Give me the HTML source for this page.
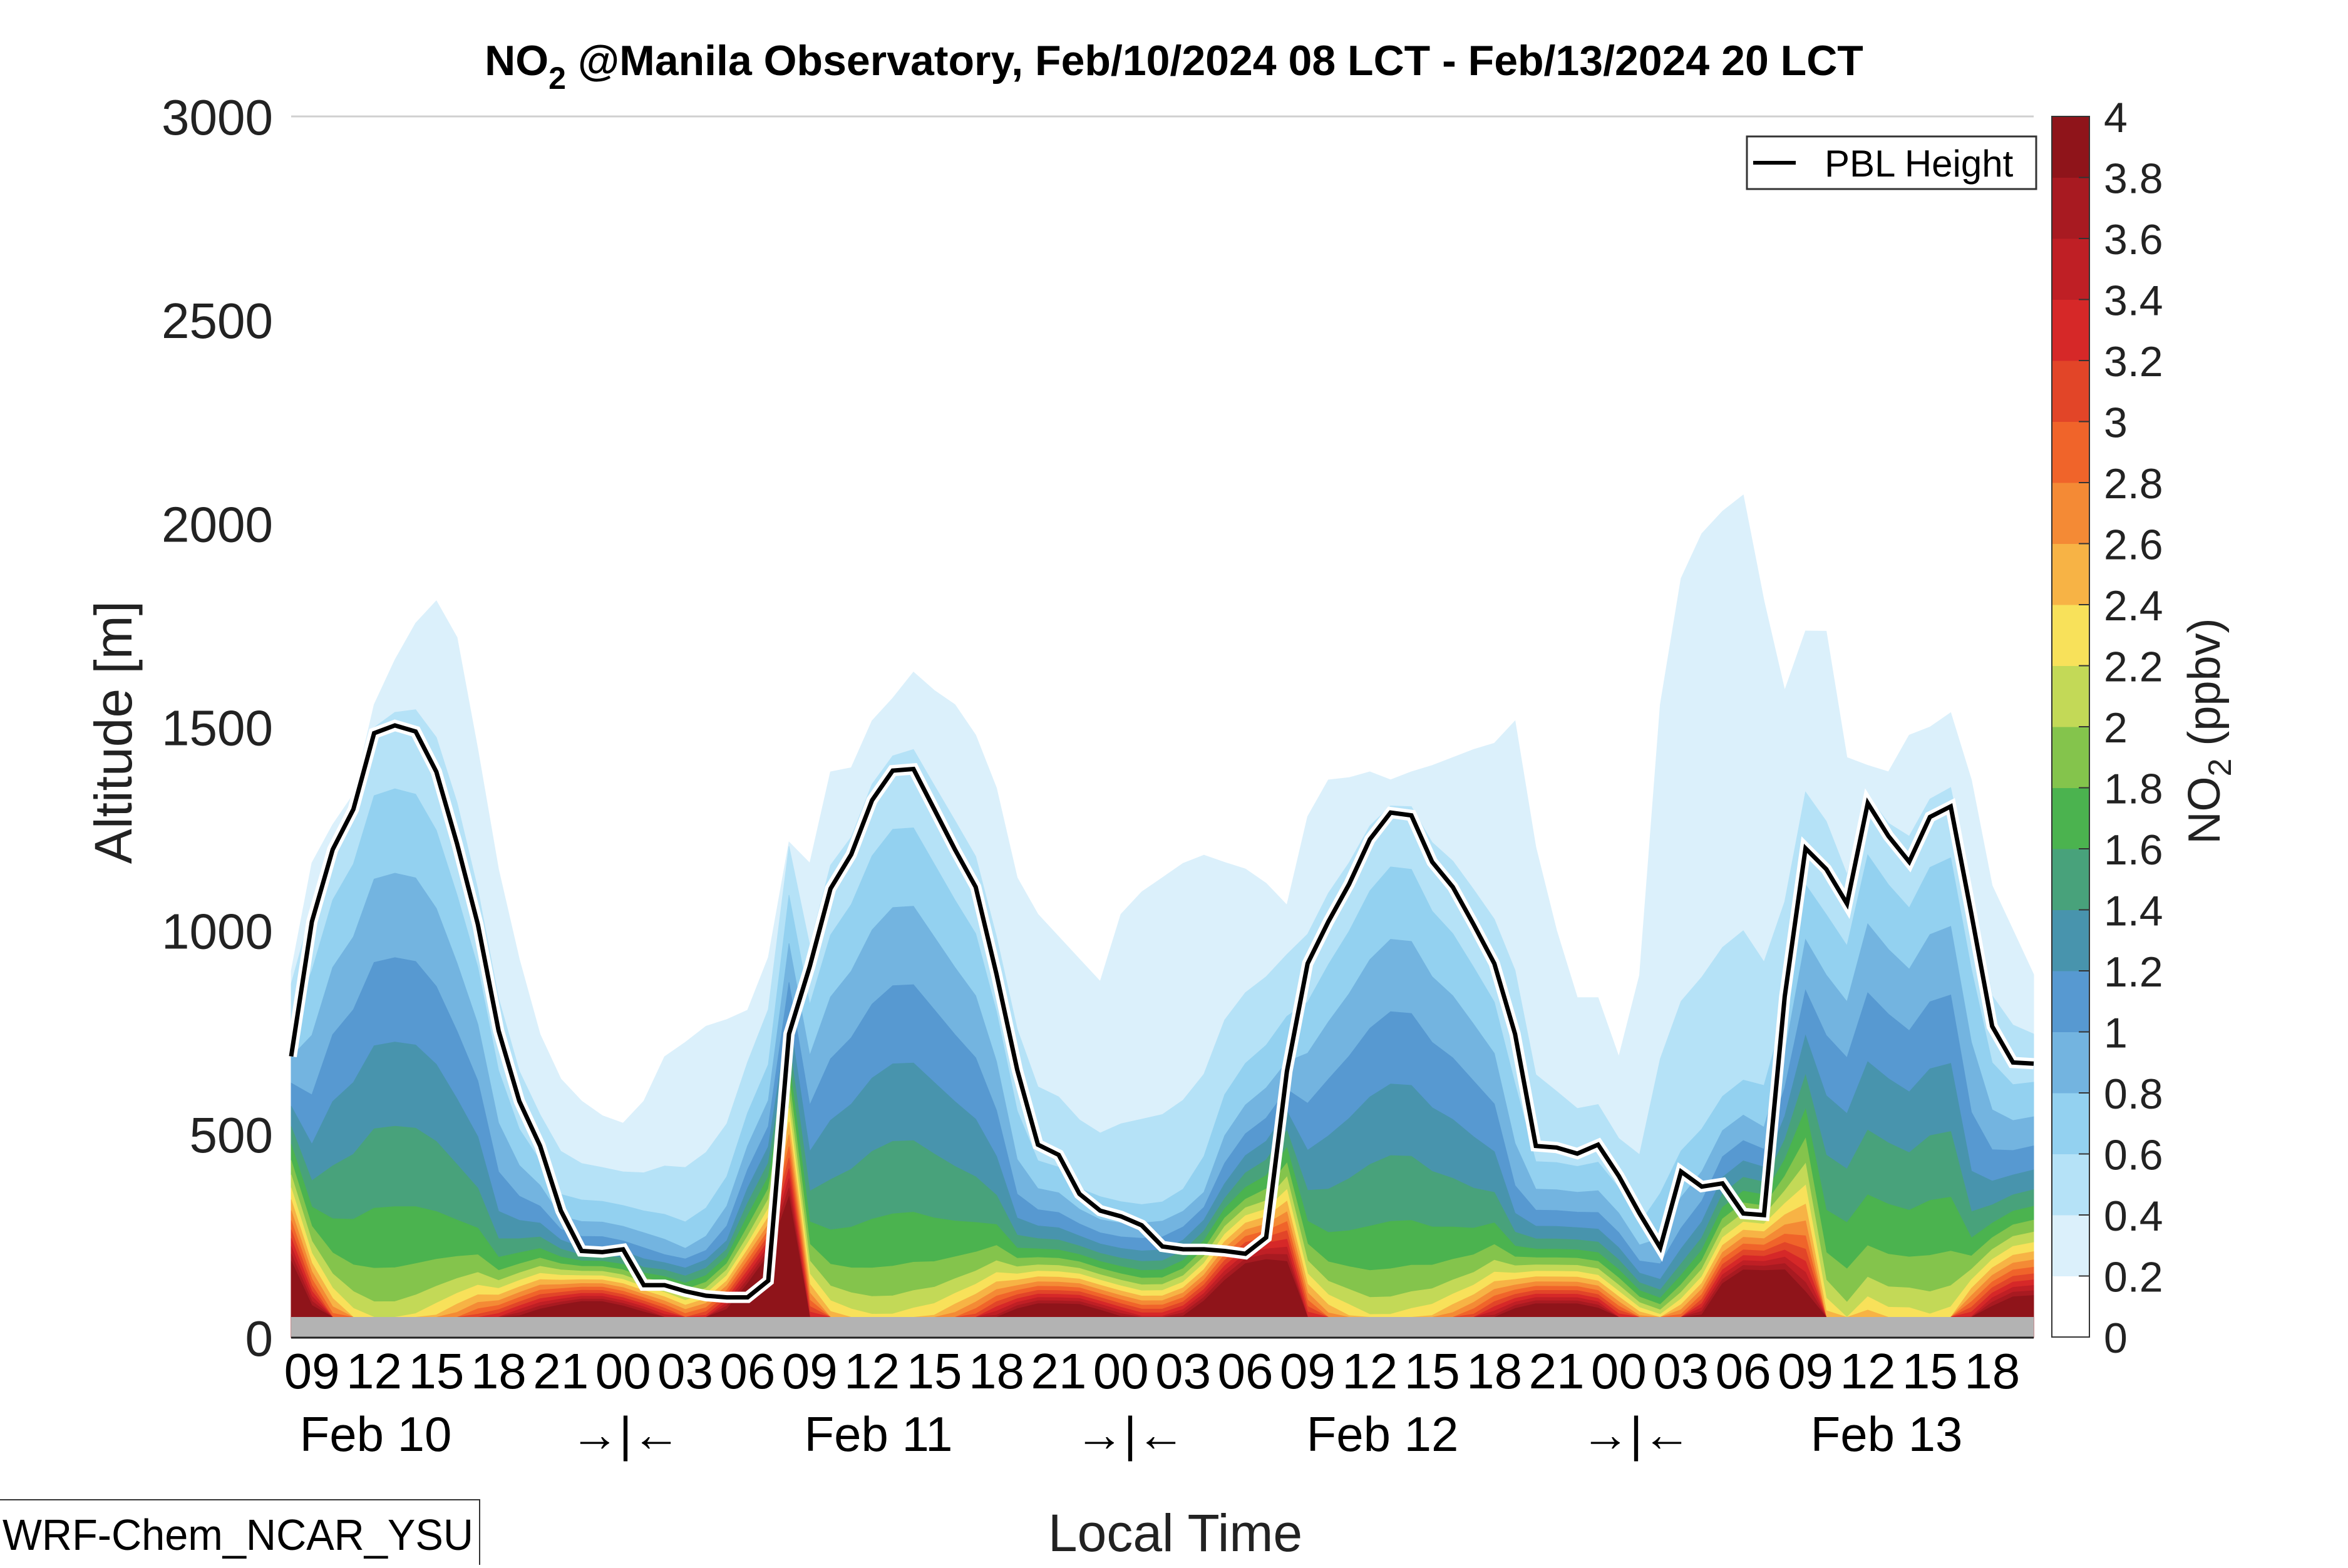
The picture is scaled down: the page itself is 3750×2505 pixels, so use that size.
<!DOCTYPE html>
<html><head><meta charset="utf-8">
<style>
html,body{margin:0;padding:0;background:#fff;}
svg text{font-family:"Liberation Sans",sans-serif;}
</style></head>
<body>
<svg id="chart" width="3750" height="2500" viewBox="0 0 3750 2500" xmlns="http://www.w3.org/2000/svg">
<rect x="0" y="0" width="3750" height="2500" fill="#fff"/>
<text x="1875" y="120" font-size="68" font-weight="bold" text-anchor="middle">NO<tspan font-size="50" dy="22">2</tspan><tspan dy="-22"> @Manila Observatory, Feb/10/2024 08 LCT - Feb/13/2024 20 LCT</tspan></text>
<line x1="465" y1="186" x2="3248" y2="186" stroke="#d0d0d0" stroke-width="3"/>
<g id="contours"></g>
<rect x="465" y="2104" width="2783" height="33" fill="#b3b3b3"/>
<line x1="465" y1="2137" x2="3248" y2="2137" stroke="#222" stroke-width="3"/>
<g id="pbl"></g>
<g id="yticks"></g>
<g id="xticks"></g>
<text transform="translate(210,1170) rotate(-90)" font-size="84" text-anchor="middle" fill="#222">Altitude [m]</text>
<text x="1877" y="2500" font-size="84" text-anchor="middle" fill="#222" dy="-22">Local Time</text>
<g font-size="78" text-anchor="middle">
<text x="600" y="2318">Feb 10</text>
<text x="1403" y="2318">Feb 11</text>
<text x="2208" y="2318">Feb 12</text>
<text x="3013" y="2318">Feb 13</text>
<text x="999" y="2318">→|←</text>
<text x="1805" y="2318">→|←</text>
<text x="2613" y="2318">→|←</text>
</g>
<g>
<rect x="-2" y="2396" width="768" height="110" fill="#fff" stroke="#333" stroke-width="2"/>
<text x="4" y="2476" font-size="70" textLength="752" lengthAdjust="spacingAndGlyphs">WRF-Chem_NCAR_YSU</text>
</g>
<g>
<rect x="2790" y="218" width="462" height="84" fill="#fff" stroke="#333" stroke-width="3"/>
<line x1="2800" y1="260" x2="2868" y2="260" stroke="#000" stroke-width="6"/>
<text x="2914" y="282" font-size="60">PBL Height</text>
</g>
<g id="cbar"></g>
<text transform="translate(3545,1168) rotate(-90)" font-size="72" text-anchor="middle" fill="#222">NO<tspan font-size="52" dy="18">2</tspan><tspan dy="-18"> (ppbv)</tspan></text>
</svg>
<script>
// ---- data (hourly, hour 0 = Feb 10 08 LCT) ----
const pbl = [691,1022,1199,1298,1485,1504,1489,1390,1213,1015,754,581,471,312,213,210,217,129,129,114,103,99,99,140,
746,912,1103,1187,1320,1393,1397,1298,1199,1107,893,658,474,449,353,312,298,276,224,217,217,213,206,246,
654,919,1022,1114,1224,1290,1283,1169,1107,1015,919,746,471,467,452,474,397,305,221,408,371,379,305,301,
838,1202,1151,1066,1313,1232,1169,1279,1305,1040,765,676,673];
const top02 = [893,1169,1261,1335,1555,1665,1757,1812,1720,1445,1151,930,746,636,581,544,526,581,691,728,765,783,801,930,
1206,1169,1390,1400,1518,1574,1636,1592,1555,1482,1353,1132,1040,985,930,875,1040,1096,1132,1169,1188,1169,1151,1114,
1059,1280,1371,1379,1390,1371,1390,1408,1426,1445,1463,1518,1206,1004,838,838,691,893,1555,1868,1978,2033,2070,1812,
1592,1739,1739,1426,1408,1390,1482,1500,1537,1371,1114,1004,893];
const surfaceConc = [6,4.5,3,2.4,2.2,2.2,2.3,2.5,2.8,3.2,3.5,4,4.5,5,5.5,5.5,5,4.5,3.8,3.2,3.5,4.5,6,8,
8,3.5,2.6,2.4,2.3,2.3,2.4,2.5,2.8,3.2,3.8,4.5,5,5,5,4.5,4,3.6,3.6,4,5,6,7,7,
6,3.5,2.8,2.5,2.3,2.3,2.4,2.5,2.8,3.2,3.8,4.5,5,5,5,4.6,3.5,2.8,2.4,3,4,6,7,7,
6,4.5,2.6,2.2,2.6,2.4,2.4,2.3,2.4,3.5,4.5,5,5];
const mixedConc = [1.5,1.7,1.9,1.9,1.9,1.9,1.9,1.9,1.9,1.9,1.6,1.6,1.6,1.3,1.3,1.3,1.3,1.3,1.3,1.3,1.3,1.3,1.3,1.3,
1.5,1.9,1.9,1.9,1.9,1.9,1.9,1.9,1.9,1.9,1.9,1.3,1.3,1.3,1.3,1.3,1.3,1.3,1.3,1.3,1.3,1.3,1.3,1.3,
1.5,1.9,1.9,1.9,1.9,1.9,1.9,1.9,1.9,1.9,1.9,1.3,1.3,1.3,1.3,1.3,1.2,1.1,1.0,1.1,1.1,1.2,1.2,1.2,
1.5,2.0,2.0,2.0,2.0,2.0,2.0,2.0,2.0,1.6,1.6,1.6,1.6];
const sfcDepth = [250,120,80,80,80,80,80,80,80,80,80,90,100,100,100,100,100,100,100,100,110,130,180,200,
350,100,80,80,80,80,80,80,80,80,90,100,100,100,100,100,100,100,100,110,130,180,200,220,
250,100,80,80,80,80,80,80,80,80,90,100,100,100,100,100,100,80,70,100,120,150,160,160,
200,250,80,80,80,80,80,80,80,100,120,140,150];
const levels = [0.2,0.4,0.6,0.8,1.0,1.2,1.4,1.6,1.8,2.0,2.2,2.4,2.6,2.8,3.0,3.2,3.4,3.6,3.8];
const cbarLabels = ["0","0.2","0.4","0.6","0.8","1","1.2","1.4","1.6","1.8","2","2.2","2.4","2.6","2.8","3","3.2","3.4","3.6","3.8","4"];
const colors = ["#ffffff","#dbf0fb","#b5e2f7","#93d1f0","#73b4e0","#5799d1","#4894ad","#48a27b","#4bb34f","#84c44c",
"#c3d957","#f8e15a","#f7b345","#f48a35","#f0642a","#e24528","#d62828","#bf1f25","#a81a21","#8f141a"];
const xTickLabels = ["09","12","15","18","21","00","03","06","09","12","15","18","21","00","03","06","09","12","15","18","21","00","03","06","09","12","15","18"];
const yTicks = [0,500,1000,1500,2000,2500,3000];

const NS="http://www.w3.org/2000/svg";
const X0=465,X1=3248,Y0=2137,Y1=186,HMAX=84,ZMAX=3000;
const xs=h=>X0+(X1-X0)*h/HMAX;
const ys=z=>Y0-(Y0-Y1)*z/ZMAX;
function mk(tag,attrs,parent){const e=document.createElementNS(NS,tag);for(const k in attrs)e.setAttribute(k,attrs[k]);parent.appendChild(e);return e;}

function conc(t,z){
  const cm=mixedConc[t],c0=Math.max(surfaceConc[t],cm),top=top02[t];
  const cTop=Math.min(0.45,cm);
  const H=Math.min(Math.max(pbl[t],0.3*top),top-10);
  let base;
  if(z<=H) base=cm+(cTop-cm)*z/H;
  else if(z<=top) base=cTop+(0.2-cTop)*(z-H)/(top-H);
  else base=0.2-(z-top)/50;
  return base+(c0-cm)*Math.exp(-(z-50)/sfcDepth[t]);
}
function levelHeight(t,L){
  let prev=conc(t,50);
  if(prev<L) return 50;
  for(let z=55;z<=ZMAX;z+=5){
    const c=conc(t,z);
    if(c<L){return z-5+5*(prev-L)/(prev-c);}
    prev=c;
  }
  return ZMAX;
}
const cg=document.getElementById('contours');
levels.forEach((L,i)=>{
  let d="M"+xs(0)+","+ys(0);
  for(let t=0;t<pbl.length;t++){d+=" L"+xs(t).toFixed(1)+","+ys(levelHeight(t,L)).toFixed(1);}
  d+=" L"+xs(pbl.length-1)+","+ys(0)+" Z";
  const p=mk('path',{d:d,fill:colors[i+1],stroke:colors[i+1],'stroke-width':1},cg);
  
  
});
// PBL line
const pg=document.getElementById('pbl');
const pts=pbl.map((v,t)=>xs(t).toFixed(1)+","+ys(v).toFixed(1)).join(" ");
const halo=mk('polyline',{points:pts,fill:'none',stroke:'#fff','stroke-width':18,'stroke-linejoin':'miter'},pg);


const pl=mk('polyline',{points:pts,fill:'none',stroke:'#000','stroke-width':7,'stroke-linejoin':'miter'},pg);


// y ticks
const yg=document.getElementById('yticks');
yTicks.forEach(v=>{
  const t=mk('text',{x:436,y:ys(v)+29,'font-size':80,'text-anchor':'end',fill:'#222'},yg);
  t.textContent=v;
  
  
});
// x ticks
const xg=document.getElementById('xticks');
xTickLabels.forEach((lab,i)=>{
  const h=1+3*i;
  const t=mk('text',{x:xs(h),y:2218,'font-size':80,'text-anchor':'middle',fill:'#000'},xg);
  t.textContent=lab;
  
  
});
// colorbar
const cb=document.getElementById('cbar');
const CB0=2136,CB1=186,cbH=(CB0-CB1)/(colors.length);
colors.forEach((c,i)=>{
  const r=mk('rect',{x:3277,y:CB0-(i+1)*cbH,width:60,height:cbH+0.5,fill:c},cb);
  
  
});
const frame=mk('rect',{x:3277,y:CB1,width:60,height:CB0-CB1,fill:'none',stroke:'#333','stroke-width':2},cb);


cbarLabels.forEach((lab,i)=>{
  const y=CB0-i*cbH;
  const tk=mk('line',{x1:3320,y1:y,x2:3337,y2:y,stroke:'#333','stroke-width':2},cb);
  
  
  const t=mk('text',{x:3360,y:y+25,'font-size':68,fill:'#222'},cb);
  t.textContent=lab;
  
  
});
</script>
</body></html>
